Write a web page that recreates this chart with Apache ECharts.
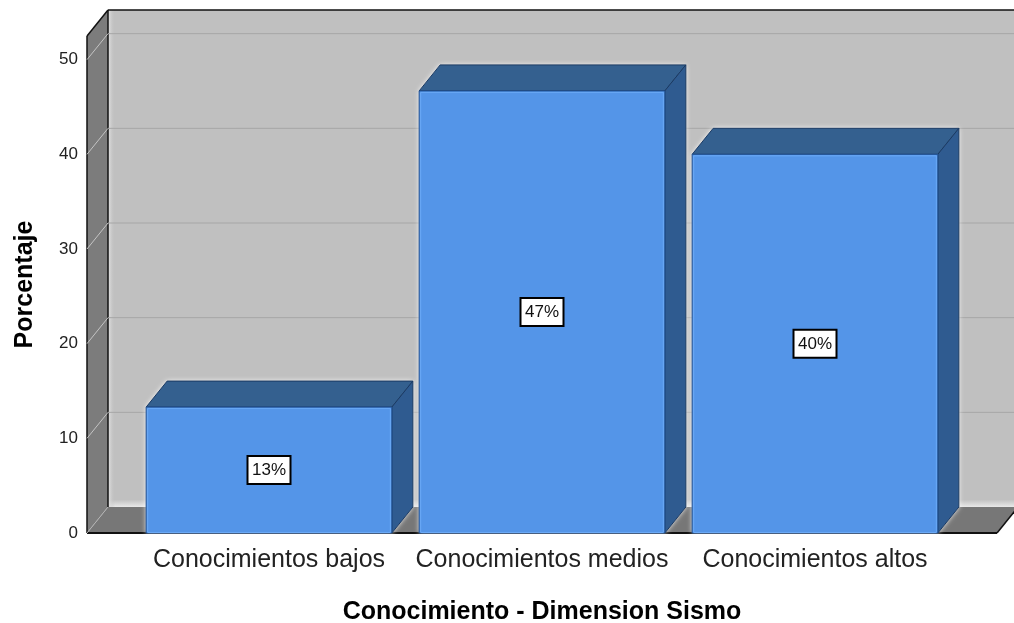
<!DOCTYPE html>
<html><head><meta charset="utf-8">
<style>html,body{margin:0;padding:0;background:#fff}#c{width:1014px;height:623px}</style>
<script src="https://cdn.jsdelivr.net/npm/echarts@6/dist/echarts.min.js"></script></head>
<body><div id="c"></div>
<script>
var categories = ['Conocimientos bajos', 'Conocimientos medios', 'Conocimientos altos'];
var percentages = [13.3, 46.7, 40.0];
var gridValues = [0, 10, 20, 30, 40, 50];
var axisTop = 52.5;
var xAxisTitle = 'Conocimiento - Dimension Sismo';
var yAxisTitle = 'Porcentaje';

var DX = 21, DY = -26, SIDE = 45.5;
var FONT = '"Liberation Sans", Arial, sans-serif';
var chart = echarts.init(document.getElementById('c'), null, {renderer: 'canvas'});

function poly(points, fill, stroke, lw, extra) {
  return {type: 'polygon', shape: {points: points},
    style: Object.assign({fill: fill, stroke: stroke || null, lineWidth: lw || 0}, extra || {})};
}
function line(x1, y1, x2, y2, stroke, lw) {
  return {type: 'line', shape: {x1: x1, y1: y1, x2: x2, y2: y2},
    style: {stroke: stroke, lineWidth: lw || 1}};
}
function grad(x, y, x2, y2, stops) {
  return new echarts.graphic.LinearGradient(x, y, x2, y2, stops);
}

function renderWalls(params, api) {
  var cs = params.coordSys;
  var l = cs.x - SIDE, r = cs.x + cs.width + SIDE;
  var y0 = api.coord([0, 0])[1], yT = api.coord([0, axisTop])[1];
  var bl = l + DX, bb = y0 + DY, bt = yT + DY;
  return {type: 'group', silent: true, children: [
    poly([[bl, bt], [1020, bt], [1020, bb], [bl, bb]],
      grad(0, 0, 0, 1, [{offset: 0, color: '#c0c0c0'}, {offset: 0.985, color: '#c0c0c0'}, {offset: 1, color: '#e9e9e9'}])),
    poly([[bl, bt], [bl + 7, bt], [bl + 7, bb], [bl, bb]],
      grad(0, 0, 1, 0, [{offset: 0, color: '#e6e6e6'}, {offset: 1, color: 'rgba(192,192,192,0)'}])),
    poly([[l, yT], [bl, bt], [bl, bb], [l, y0]], '#7c7c7c'),
    poly([[l, y0], [bl, bb], [r + DX, bb], [r, y0]], '#777777'),
    line(l, yT, l, y0, '#111', 1.5),
    line(l, yT, bl, bt, '#111', 1.5),
    line(bl, bt, 1014, bt, '#111', 1.5),
    line(bl, bt, bl, bb, '#111', 1.5),
    line(l, y0, r, y0, '#111', 2),
    line(r, y0, r + DX, bb, '#111', 1.5)
  ]};
}
function renderGrid(params, api) {
  var cs = params.coordSys;
  var l = cs.x - SIDE;
  var y = api.coord([0, api.value(0)])[1];
  var isZero = api.value(0) === 0;
  var kids = [line(l, y, l + DX, y + DY, isZero ? '#b4b4b4' : '#c4c4c4', 1)];
  if (!isZero) kids.push(line(l + DX, y + DY, 1014, y + DY, '#a6a6a6', 1));
  return {type: 'group', silent: true, children: kids};
}
function renderBar(params, api) {
  var idx = api.value(0), v = api.value(1);
  var c = api.coord([idx, v]), base = api.coord([idx, 0]);
  var w = api.size([1, 0])[0] * 0.9;
  var x1 = c[0] - w / 2, x2 = c[0] + w / 2, yt = c[1], yb = base[1];
  var midY = (yt + yb) / 2;
  var txt = Math.round(v) + '%';
  var halo = {shadowBlur: 5, shadowColor: 'rgba(255,255,255,0.95)'};
  return {type: 'group', children: [
    poly([[x1, yt], [x1 + DX, yt + DY], [x2 + DX, yt + DY], [x2 + DX, yb + DY], [x2, yb], [x1, yb]], '#ffffff', null, 0, halo),
    poly([[x1, yt], [x1 + DX, yt + DY], [x2 + DX, yt + DY], [x2, yt]], '#34608f', '#1b3a63', 1),
    poly([[x2, yt], [x2 + DX, yt + DY], [x2 + DX, yb + DY], [x2, yb]], '#2f5b90', '#1b3a63', 1),
    {type: 'rect', shape: {x: x1, y: yt, width: w, height: yb - yt},
      style: {fill: '#5495e8', stroke: '#1f4f8f', lineWidth: 1}},
    {type: 'rect', shape: {x: x1 + 1.5, y: yt + 1.5, width: w - 3, height: yb - yt - 2},
      style: {fill: null, stroke: '#6aa9f6', lineWidth: 1}},
    {type: 'rect', shape: {x: c[0] - 21.5, y: midY - 14, width: 43, height: 28},
      style: {fill: '#ffffff', stroke: '#000000', lineWidth: 2}},
    {type: 'text', style: {x: c[0], y: midY + 0.5, text: txt, fill: '#111', font: '17px ' + FONT,
      align: 'center', verticalAlign: 'middle'}}
  ]};
}

chart.setOption({
  animation: false,
  backgroundColor: '#ffffff',
  grid: {left: 132.5, right: 62.5, top: 36, bottom: 90, containLabel: false, outerBoundsMode: 'none'},
  xAxis: {
    type: 'category', data: categories, boundaryGap: true,
    axisLine: {show: false}, axisTick: {show: false},
    axisLabel: {color: '#222', fontSize: 25, margin: 15, fontFamily: FONT, interval: 0},
    name: xAxisTitle, nameLocation: 'middle', nameGap: 67,
    nameTextStyle: {color: '#000', fontSize: 25, fontWeight: 'bold', fontFamily: FONT}
  },
  yAxis: {
    type: 'value', min: 0, max: axisTop, interval: 10, offset: SIDE,
    axisLine: {show: false}, axisTick: {show: false}, splitLine: {show: false},
    axisLabel: {color: '#222', fontSize: 17, margin: 9, padding: [4, 0, 0, 0], fontFamily: FONT, showMaxLabel: false},
    name: yAxisTitle, nameLocation: 'middle', nameGap: 49, nameRotate: 90,
    nameTextStyle: {color: '#000', fontSize: 25, fontWeight: 'bold', fontFamily: FONT}
  },
  series: [
    {type: 'custom', coordinateSystem: 'cartesian2d', z: 1, clip: false,
      renderItem: renderWalls, data: [[0, 0]], silent: true},
    {type: 'custom', coordinateSystem: 'cartesian2d', z: 2, clip: false,
      renderItem: renderGrid, encode: {y: 0}, data: gridValues.map(function (g) { return [g]; }), silent: true},
    {type: 'custom', coordinateSystem: 'cartesian2d', z: 3, clip: false,
      renderItem: renderBar, encode: {x: 0, y: 1},
      data: percentages.map(function (p, i) { return [i, p]; })}
  ]
});
</script></body></html>
